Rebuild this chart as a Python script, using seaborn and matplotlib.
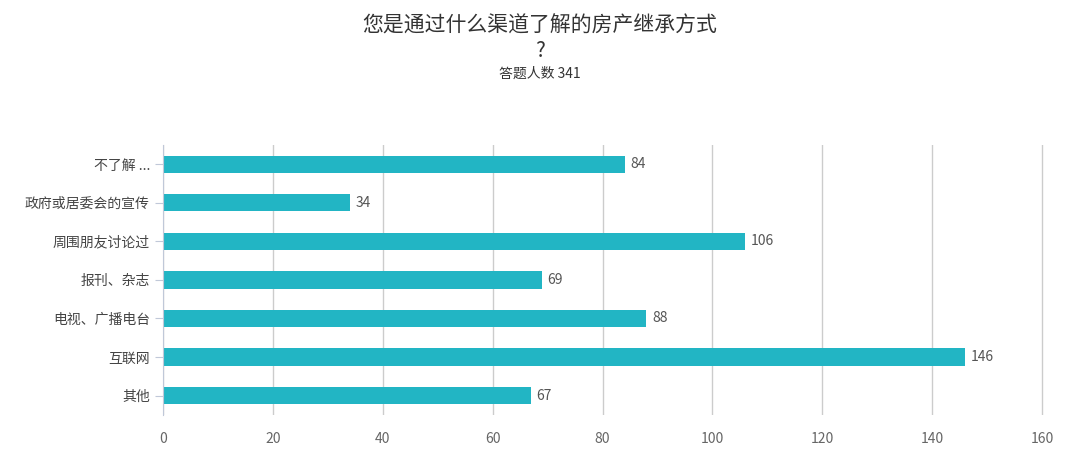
import matplotlib
matplotlib.use("Agg")
import matplotlib.pyplot as plt
import seaborn as sns
import pandas as pd

categories = ["不了解 ...", "政府或居委会的宣传", "周围朋友讨论过", "报刊、杂志", "电视、广播电台", "互联网", "其他"]
values = [84, 34, 106, 69, 88, 146, 67]
xticks = [0, 20, 40, 60, 80, 100, 120, 140, 160]

plt.rcParams["font.family"] = ["Noto Sans CJK SC", "DejaVu Sans"]
df = pd.DataFrame({"cat": categories, "val": values})

fig = plt.figure(figsize=(10.8, 4.63), dpi=100)
ax = fig.add_axes([0.151, 0.104, 0.824, 0.583])
sns.barplot(data=df, x="val", y="cat", color="#22b5c4", saturation=1, width=0.45, ax=ax)
ax.set_xlim(0, 162)
ax.set_xticks(xticks)
ax.set_xlabel(""); ax.set_ylabel("")
ax.grid(axis="x", color="#cccccc", linewidth=1)
ax.set_axisbelow(True)
for s in ["top", "right", "bottom"]:
    ax.spines[s].set_visible(False)
ax.spines["left"].set_color("#c0c8d8")
ax.tick_params(axis="y", length=6, color="#c0c8d8", labelsize=10, labelcolor="#444444")
ax.tick_params(axis="x", length=0, labelsize=10, labelcolor="#666666", pad=12)
for i, v in enumerate(values):
    ax.text(v + 1, i, str(v), va="center", ha="left", fontsize=10, color="#555555")

fig.text(0.5, 0.945, "您是通过什么渠道了解的房产继承方式", ha="center", va="center", fontsize=15, color="#333333")
fig.text(0.5, 0.89, "?", ha="center", va="center", fontsize=15, color="#333333")
fig.text(0.5, 0.84, "答题人数 341", ha="center", va="center", fontsize=10, color="#333333")
fig.savefig("out.png", dpi=100)
